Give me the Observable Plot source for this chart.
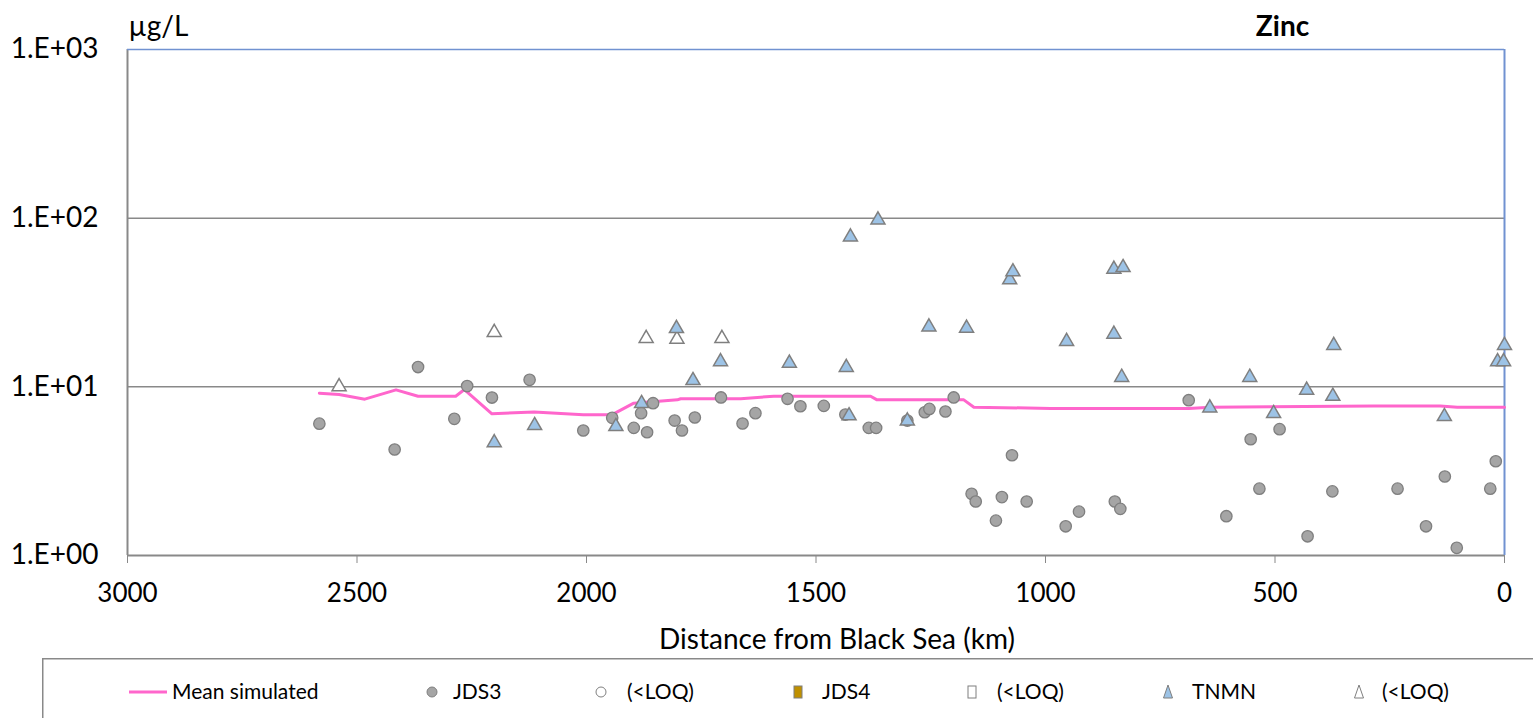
<!DOCTYPE html>
<html>
<head>
<meta charset="utf-8">
<script src="https://cdn.jsdelivr.net/npm/d3@7"></script>
<script src="https://cdn.jsdelivr.net/npm/@observablehq/plot@0.6"></script>
<style>
  html, body { margin: 0; padding: 0; background: #fff; }
  #chart { position: relative; width: 1533px; height: 718px; overflow: hidden; font-family: Lato, "Open Sans", sans-serif; }
  #legend { position: absolute; left: 42px; top: 658px; }
</style>
</head>
<body>
<div id="chart"></div>
<script>
// Axis ticks
const distanceTicks = [3000, 2500, 2000, 1500, 1000, 500, 0];
const concentrationTicks = [1, 10, 100, 1000];

// Mean simulated zinc concentration along the Danube (km from Black Sea, µg/L)
const simKm    = [2582, 2539, 2483, 2415, 2367, 2285, 2266, 2206, 2114, 2007, 1945, 1897, 1802, 1795, 1664, 1592, 1381, 1367, 1178, 1156, 989, 688, 640, 285, 140, 103, 0];
const simValue = [9.17, 9.0, 8.45, 9.6, 8.8, 8.8, 9.64, 6.92, 7.1, 6.82, 6.82, 8.0, 8.37, 8.5, 8.5, 8.8, 8.8, 8.37, 8.37, 7.57, 7.45, 7.45, 7.57, 7.7, 7.7, 7.57, 7.57];

// JDS3 measurements
const jds3Km    = [2582, 2418, 2367, 2288, 2260, 2206, 2124, 2007, 1944, 1897, 1881, 1868, 1855, 1808, 1792, 1764, 1707, 1660, 1632, 1562, 1534, 1483, 1436, 1385, 1369, 1301, 1263, 1253, 1218, 1200, 1161, 1152, 1108, 1095, 1073, 1041, 956, 927, 849, 837, 688, 606, 553, 534, 490, 429, 375, 233, 171, 130, 104, 31, 19];
const jds3Value = [6.05, 4.25, 13.1, 6.46, 10.1, 8.64, 11.0, 5.51, 6.55, 5.71, 6.98, 5.38, 8.0, 6.31, 5.51, 6.58, 8.65, 6.06, 6.98, 8.49, 7.67, 7.71, 6.85, 5.71, 5.71, 6.31, 7.07, 7.4, 7.14, 8.65, 2.32, 2.09, 1.61, 2.22, 3.93, 2.09, 1.49, 1.82, 2.09, 1.89, 8.33, 1.71, 4.89, 2.49, 5.61, 1.30, 2.40, 2.49, 1.49, 2.94, 1.11, 2.49, 3.62];

// JDS3 and JDS4 below limit of quantification, JDS4 measurements (none in this panel)
const jds3LoqKm = [], jds3LoqValue = [];
const jds4Km = [], jds4Value = [];
const jds4LoqKm = [], jds4LoqValue = [];

// TNMN measurements
const tnmnKm    = [2201, 2113, 1936, 1880, 1804, 1768, 1708, 1558, 1434, 1428, 1425, 1365, 1301, 1254, 1172, 1078, 1071, 954, 851, 831, 851, 834, 642, 555, 503, 431, 374, 372, 131, 15, 2, 0];
const tnmnValue = [4.8, 6.06, 5.98, 8.18, 22.8, 11.2, 14.5, 14.2, 13.4, 6.92, 79.6, 100.4, 6.46, 23.3, 22.9, 44.3, 49.4, 19.1, 51.2, 52.4, 21.1, 11.7, 7.71, 11.7, 7.14, 9.82, 9.04, 18.1, 6.85, 14.5, 14.5, 18.1];

// TNMN below limit of quantification
const tnmnLoqKm    = [2539, 2201, 1870, 1803, 1705];
const tnmnLoqValue = [10.3, 21.6, 19.9, 19.7, 19.9];

// Legend entries
const legendLabels = ["Mean simulated", "JDS3", "(<LOQ)", "JDS4", "(<LOQ)", "TNMN", "(<LOQ)"];

const pairs = (xs, ys) => xs.map((x, i) => ({km: x, v: ys[i]}));
const sim = pairs(simKm, simValue);
const jds3 = pairs(jds3Km, jds3Value);
const jds3Loq = pairs(jds3LoqKm, jds3LoqValue);
const jds4 = pairs(jds4Km, jds4Value);
const jds4Loq = pairs(jds4LoqKm, jds4LoqValue);
const tnmn = pairs(tnmnKm, tnmnValue);
const tnmnLoq = pairs(tnmnLoqKm, tnmnLoqValue);

const GRID = "#898989";
const FRAME = "#7192d1";
const PINK = "#ff66cc";
const DOT_FILL = "#a5a5a5";
const DOT_STROKE = "#7f7f7f";
const TRI_FILL = "#9dc3e6";

const expLabel = d => "1.E+" + String(Math.round(Math.log10(d))).padStart(2, "0");

const chart = Plot.plot({
  width: 1533,
  height: 650,
  marginLeft: 127,
  marginRight: 29,
  marginTop: 49,
  marginBottom: 95,
  style: {fontFamily: "Lato, 'Open Sans', sans-serif", fontSize: "26px", color: "#000", background: "#fff", overflow: "visible"},
  x: {type: "linear", domain: [3000, 0]},
  y: {type: "log", domain: [1, 1000]},
  marks: [
    Plot.ruleY([10, 100], {stroke: GRID, strokeWidth: 1.5}),
    Plot.ruleY([1], {stroke: GRID, strokeWidth: 2}),
    Plot.ruleX([3000], {stroke: GRID, strokeWidth: 2}),
    Plot.ruleY([1000], {stroke: FRAME, strokeWidth: 1.5}),
    Plot.ruleX([0], {stroke: FRAME, strokeWidth: 2}),
    Plot.axisX(distanceTicks, {tickSize: 8, tickPadding: 20, stroke: GRID, tickFormat: d => String(d), label: null}),
    Plot.axisY(concentrationTicks, {tickSize: 0, tickPadding: 29, tickFormat: expLabel, label: null, fontSize: 28}),
    Plot.text(["Distance from Black Sea (km)"], {text: d => d, frameAnchor: "bottom", lineAnchor: "middle", dy: 85, dx: 21, fontSize: 28}),
    Plot.text(["µg/L"], {text: d => d, frameAnchor: "top-left", textAnchor: "start", lineAnchor: "middle", dx: 1, dy: -22, fontSize: 28}),
    Plot.text(["Zinc"], {text: d => d, frameAnchor: "top-right", textAnchor: "middle", lineAnchor: "middle", dx: -222, dy: -22, fontSize: 28, fontWeight: "bold"}),
    Plot.line(sim, {x: "km", y: "v", stroke: PINK, strokeWidth: 3}),
    Plot.dot(jds3Loq, {x: "km", y: "v", r: 5.7, fill: "#fff", stroke: DOT_STROKE, strokeWidth: 1.3}),
    Plot.dot(jds3, {x: "km", y: "v", r: 5.7, fill: DOT_FILL, stroke: DOT_STROKE, strokeWidth: 1.3}),
    Plot.dot(jds4, {x: "km", y: "v", symbol: "square", r: 5, fill: "#bf9000", stroke: DOT_STROKE}),
    Plot.dot(jds4Loq, {x: "km", y: "v", symbol: "square", r: 5, fill: "#fff", stroke: DOT_STROKE}),
    Plot.dot(tnmnLoq, {x: "km", y: "v", symbol: "triangle", r: 5.2, dy: 2, fill: "#fff", stroke: DOT_STROKE, strokeWidth: 1.5}),
    Plot.dot(tnmn, {x: "km", y: "v", symbol: "triangle", r: 5.2, dy: 2, fill: TRI_FILL, stroke: DOT_STROKE, strokeWidth: 1.5})
  ]
});

const root = document.getElementById("chart");
root.appendChild(chart);

// Legend box below the chart
const legend = d3.select(root).append("svg")
  .attr("id", "legend")
  .attr("width", 1500)
  .attr("height", 70)
  .style("font-family", "Lato, 'Open Sans', sans-serif")
  .style("font-size", "21px");

legend.append("rect")
  .attr("x", 0.75).attr("y", 0.75)
  .attr("width", 1520).attr("height", 100)
  .attr("fill", "none").attr("stroke", GRID).attr("stroke-width", 1.5);

const cy = 34;
const markerX = [106, 390, 559, 756, 930, 1126, 1317];
const textX = [130, 411, 585, 780, 955, 1150, 1340];
const kinds = ["line", "dot", "dotLoq", "square", "squareLoq", "tri", "triLoq"];

kinds.forEach((kind, i) => {
  const g = legend.append("g").attr("transform", `translate(${markerX[i]},${cy})`);
  if (kind === "line") {
    g.append("line").attr("x1", -19).attr("x2", 19).attr("stroke", PINK).attr("stroke-width", 3);
  } else if (kind === "dot" || kind === "dotLoq") {
    g.append("circle").attr("r", 5)
      .attr("fill", kind === "dot" ? DOT_FILL : "#fff").attr("stroke", DOT_STROKE).attr("stroke-width", 1);
  } else if (kind === "square" || kind === "squareLoq") {
    g.append("rect").attr("x", -4).attr("y", -6).attr("width", 8).attr("height", 12)
      .attr("fill", kind === "square" ? "#bf9000" : "#fff").attr("stroke", DOT_STROKE).attr("stroke-width", 1);
  } else {
    g.append("path").attr("d", "M0,-7L4.5,6L-4.5,6Z")
      .attr("fill", kind === "tri" ? TRI_FILL : "#fff").attr("stroke", DOT_STROKE).attr("stroke-width", 1);
  }
  legend.append("text")
    .attr("x", textX[i]).attr("y", cy)
    .attr("dy", "0.35em")
    .text(legendLabels[i]);
});
</script>
</body>
</html>
